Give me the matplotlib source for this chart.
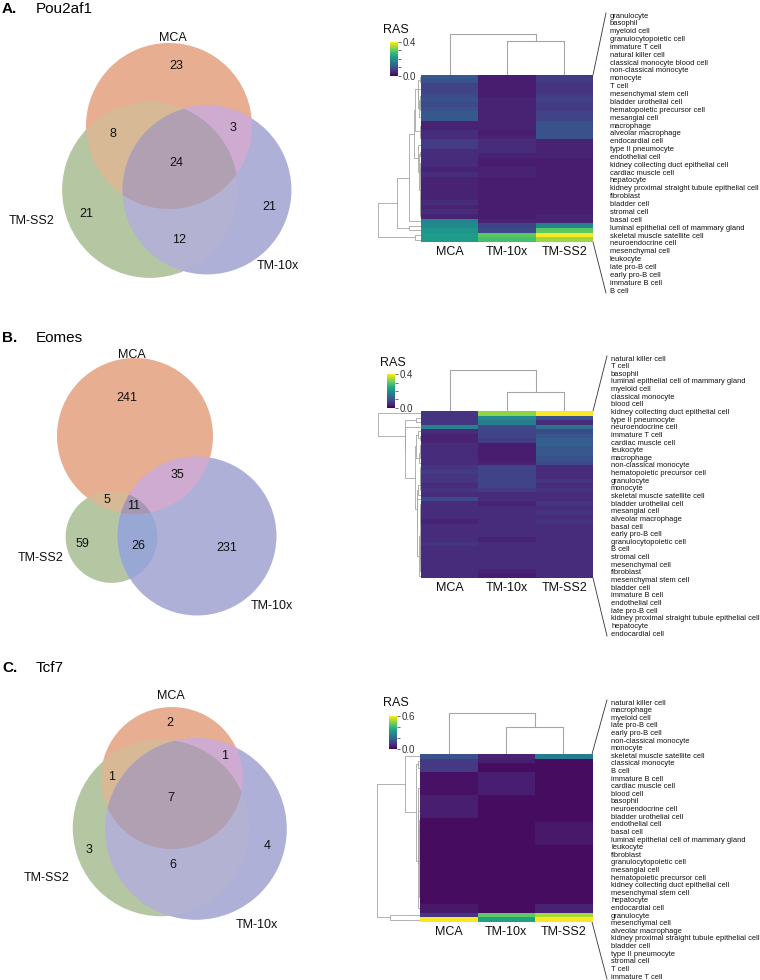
import numpy as np
import matplotlib
matplotlib.use("Agg")
import matplotlib.pyplot as plt
from matplotlib.patches import Circle, Polygon

plt.rcParams['font.family'] = ['Liberation Sans', 'DejaVu Sans']

# ---------------- data ----------------
set_names = ['MCA', 'TM-SS2', 'TM-10x']      # A, B, C of the venn codes
heat_cols = ['MCA', 'TM-10x', 'TM-SS2']

# venn region codes: MCA / TM-SS2 / TM-10x membership
pou2af1_venn = {'100': 23, '010': 21, '110': 8, '001': 21, '101': 3, '011': 12, '111': 24}
eomes_venn = {'100': 241, '010': 59, '110': 5, '001': 231, '101': 35, '011': 26, '111': 11}
tcf7_venn = {'100': 2, '010': 3, '110': 1, '001': 4, '101': 1, '011': 6, '111': 7}

pou2af1_cells = [
    'granulocyte', 'basophil', 'myeloid cell', 'granulocytopoietic cell', 'immature T cell',
    'natural killer cell', 'classical monocyte blood cell', 'non-classical monocyte', 'monocyte',
    'T cell', 'mesenchymal stem cell', 'bladder urothelial cell', 'hematopoietic precursor cell',
    'mesangial cell', 'macrophage', 'alveolar macrophage', 'endocardial cell', 'type II pneumocyte',
    'endothelial cell', 'kidney collecting duct epithelial cell', 'cardiac muscle cell', 'hepatocyte',
    'kidney proximal straight tubule epithelial cell', 'fibroblast', 'bladder cell', 'stromal cell',
    'basal cell', 'luminal epithelial cell of mammary gland', 'skeletal muscle satellite cell',
    'neuroendocrine cell', 'mesenchymal cell', 'leukocyte', 'late pro-B cell', 'early pro-B cell',
    'immature B cell', 'B cell']
pou2af1_mca = [.11, .10, .08, .08, .09, .10, .09, .10, .11, .11, .04, .04, .05, .05, .07, .07, .05, .05,
               .05, .05, .04, .05, .04, .04, .04, .04, .04, .05, .04, .05, .04, .18, .19, .21, .22, .22]
pou2af1_10x = [.03, .03, .03, .03, .03, .04, .04, .04, .04, .04, .04, .04, .03, .04, .05, .05, .05, .04,
               .03, .03, .04, .04, .03, .03, .03, .03, .03, .03, .03, .03, .03, .04, .08, .09, .30, .28]
pou2af1_ss2 = [.07, .07, .06, .06, .07, .08, .07, .07, .08, .08, .10, .10, .10, .10, .04, .04, .04, .04,
               .03, .03, .03, .03, .03, .03, .03, .03, .03, .03, .03, .03, .04, .04, .18, .30, .40, .34]

eomes_cells = [
    'natural killer cell', 'T cell', 'basophil', 'luminal epithelial cell of mammary gland',
    'myeloid cell', 'classical monocyte', 'blood cell', 'kidney collecting duct epithelial cell',
    'type II pneumocyte', 'neuroendocrine cell', 'immature T cell', 'cardiac muscle cell',
    'leukocyte', 'macrophage', 'non-classical monocyte', 'hematopoietic precursor cell',
    'granulocyte', 'monocyte', 'skeletal muscle satellite cell', 'bladder urothelial cell',
    'mesangial cell', 'alveolar macrophage', 'basal cell', 'early pro-B cell',
    'granulocytopoietic cell', 'B cell', 'stromal cell', 'mesenchymal cell', 'fibroblast',
    'mesenchymal stem cell', 'bladder cell', 'immature B cell', 'endothelial cell',
    'late pro-B cell', 'kidney proximal straight tubule epithelial cell', 'hepatocyte',
    'endocardial cell']
eomes_mca = [.06, .06, .06, .18, .05, .04, .04, .05, .05, .05, .05, .05, .06, .07, .06, .06, .05, .06,
             .05, .09, .05, .05, .05, .05, .04, .05, .05, .05, .05, .06, .05, .05, .05, .05, .05, .05, .05]
eomes_10x = [.33, .19, .17, .09, .08, .08, .07, .03, .03, .03, .03, .04, .08, .08, .08, .08, .08, .07,
             .05, .05, .04, .05, .05, .05, .05, .05, .05, .05, .04, .05, .05, .05, .05, .05, .05, .04, .03]
eomes_ss2 = [.40, .10, .05, .15, .09, .11, .12, .12, .11, .11, .10, .09, .05, .05, .05, .06, .05, .06,
             .05, .05, .06, .05, .06, .05, .06, .05, .05, .05, .05, .05, .05, .05, .05, .05, .05, .05, .05]

tcf7_cells = [
    'natural killer cell', 'macrophage', 'myeloid cell', 'late pro-B cell', 'early pro-B cell',
    'non-classical monocyte', 'monocyte', 'skeletal muscle satellite cell', 'classical monocyte',
    'B cell', 'immature B cell', 'cardiac muscle cell', 'blood cell', 'basophil',
    'neuroendocrine cell', 'bladder urothelial cell', 'endothelial cell', 'basal cell',
    'luminal epithelial cell of mammary gland', 'leukocyte', 'fibroblast',
    'granulocytopoietic cell', 'mesangial cell', 'hematopoietic precursor cell',
    'kidney collecting duct epithelial cell', 'mesenchymal stem cell', 'hepatocyte',
    'endocardial cell', 'granulocyte', 'mesenchymal cell', 'alveolar macrophage',
    'kidney proximal straight tubule epithelial cell', 'bladder cell', 'type II pneumocyte',
    'stromal cell', 'T cell', 'immature T cell']
tcf7_mca = [.15, .10, .10, .10, .03, .03, .03, .03, .03, .05, .05, .05, .05, .05, .02, .02, .02, .02,
            .02, .02, .02, .02, .02, .02, .02, .02, .02, .02, .02, .02, .02, .02, .02, .04, .04, .09, .60]
tcf7_10x = [.06, .05, .02, .02, .05, .05, .05, .05, .05, .02, .02, .02, .02, .02, .02, .02, .02, .02,
            .02, .02, .02, .02, .02, .02, .02, .02, .02, .02, .02, .02, .02, .02, .02, .02, .02, .45, .34]
tcf7_ss2 = [.25, .02, .02, .02, .02, .02, .02, .02, .02, .02, .02, .02, .02, .02, .02, .04, .04, .04,
            .04, .04, .02, .02, .02, .02, .02, .02, .02, .02, .02, .02, .02, .02, .02, .06, .06, .52, .60]

# column dendrogram merge heights (10x-SS2 link, root)
pou2af1_col_links = [0.83, 1.0]
eomes_col_links = [0.46, 1.0]
tcf7_col_links = [0.66, 1.0]

# ---------------- styling ----------------
venn_fill = {'100': '#E8AE92', '010': '#B4C6A2', '001': '#AEB0D8', '110': '#D7B995',
             '101': '#CFABD2', '011': '#B4B2D2', '111': '#B0A0B2'}
eomes_fill = dict(venn_fill, **{'011': '#98A7D4', '111': '#A797B2'})
dendro_color = '#a5a5a5'

W, H = 760, 980
fig = plt.figure(figsize=(W / 100, H / 100), dpi=100)
canvas = fig.add_axes([0, 0, 1, 1])
canvas.set_xlim(0, W)
canvas.set_ylim(H, 0)
canvas.axis('off')


def px_axes(x0, y0, x1, y1):
    return fig.add_axes([x0 / W, 1 - y1 / H, (x1 - x0) / W, (y1 - y0) / H])


def set_total(counts, i):
    return sum(v for k, v in counts.items() if k[i] == '1')


def lens(c1, r1, c2, r2):
    # polygon of the overlap of two circles
    t = np.linspace(0, 2 * np.pi, 1440)
    p1 = np.column_stack([c1[0] + r1 * np.cos(t), c1[1] + r1 * np.sin(t)])
    p2 = np.column_stack([c2[0] + r2 * np.cos(t), c2[1] + r2 * np.sin(t)])
    pts = np.vstack([p1[np.hypot(*(p1 - c2).T) <= r2], p2[np.hypot(*(p2 - c1).T) <= r1]])
    m = pts.mean(0)
    return pts[np.argsort(np.arctan2(pts[:, 1] - m[1], pts[:, 0] - m[0]))]


def draw_venn(counts, centers, scale, num_pos, name_pos, fills):
    radii = [scale * np.sqrt(set_total(counts, i)) for i in range(3)]
    clips = [Circle(c, r, transform=canvas.transData) for c, r in zip(centers, radii)]

    def disc(i, code, clip=None):
        p = Circle(centers[i], radii[i], fc=fills[code], ec='none', lw=0, zorder=1)
        canvas.add_patch(p)
        if clip is not None:
            p.set_clip_path(clips[clip])

    disc(0, '100')
    disc(1, '010')
    disc(2, '001')
    disc(1, '110', clip=0)
    disc(2, '101', clip=0)
    disc(2, '011', clip=1)
    tri = Polygon(lens(centers[0], radii[0], centers[1], radii[1]), closed=True,
                  fc=fills['111'], ec='none', lw=0, zorder=1)
    canvas.add_patch(tri)
    tri.set_clip_path(clips[2])

    for code, (tx, ty) in num_pos.items():
        canvas.text(tx, ty, str(counts[code]), ha='center', va='center', fontsize=9,
                    color='#111111', zorder=3)
    for name, (tx, ty) in zip(set_names, name_pos):
        canvas.text(tx, ty, name, ha='center', va='center', fontsize=9, color='#111111', zorder=3)


def adjacent_linkage(X):
    # average linkage that only merges neighbouring clusters, so leaf order is kept
    clusters = [dict(members=[i], pos=float(i), h=0.0) for i in range(len(X))]
    links = []
    while len(clusters) > 1:
        best = None
        for k in range(len(clusters) - 1):
            a = X[clusters[k]['members']]
            b = X[clusters[k + 1]['members']]
            d = np.sqrt(((a[:, None, :] - b[None, :, :]) ** 2).sum(-1)).mean()
            if best is None or d < best[0]:
                best = (d, k)
        d, k = best
        a, b = clusters[k], clusters[k + 1]
        h = max(d, a['h'], b['h'])
        links.append((a['pos'], a['h'], b['pos'], b['h'], h))
        clusters[k:k + 2] = [dict(members=a['members'] + b['members'], pos=(a['pos'] + b['pos']) / 2, h=h)]
    return links


def draw_heatmap(cells, columns, vmax, ticks, heat_box, cbar_box, ras_xy, col_links,
                 label_x, label_y0, label_y1):
    data = np.column_stack(columns)
    n = len(cells)
    hx0, hy0, hx1, hy1 = heat_box

    ax = px_axes(*heat_box)
    im = ax.imshow(data, cmap='viridis', vmin=0, vmax=vmax, aspect='auto', interpolation='nearest')
    ax.set_xticks(range(3))
    ax.set_xticklabels(heat_cols, fontsize=9, color='#111111')
    ax.set_yticks([])
    ax.tick_params(length=0, pad=3)
    for s in ax.spines.values():
        s.set_visible(False)

    cax = px_axes(*cbar_box)
    cb = fig.colorbar(im, cax=cax, ticks=ticks)
    cb.ax.set_yticklabels(['0.0'] + [''] * (len(ticks) - 2) + ['%.1f' % ticks[-1]])
    cb.outline.set_visible(False)
    cb.ax.tick_params(length=2, width=0.5, labelsize=7, pad=1, colors='#333333')
    canvas.text(ras_xy[0], ras_xy[1], 'RAS', fontsize=9, va='center', ha='left', color='#111111')

    # row dendrogram
    links = adjacent_linkage(data)
    rax = px_axes(hx0 - 45, hy0, hx0, hy1)
    for y1, h1, y2, h2, h in links:
        rax.plot([h1, h, h, h2], [y1, y1, y2, y2], color=dendro_color, lw=0.6)
    hmax = max(l[4] for l in links)
    rax.set_xlim(hmax * 1.05, 0)
    rax.set_ylim(n - 0.5, -0.5)
    rax.axis('off')

    # column dendrogram
    dax = px_axes(hx0, hy0 - 43, hx1, hy0)
    h12, h0 = col_links
    dax.plot([1, 1, 2, 2], [0, h12, h12, 0], color=dendro_color, lw=0.8)
    dax.plot([0, 0, 1.5, 1.5], [0, h0, h0, h12], color=dendro_color, lw=0.8)
    dax.set_xlim(-0.5, 2.5)
    dax.set_ylim(0, h0 * 1.04)
    dax.axis('off')

    # cell type labels fanned out from the heatmap
    ys = np.linspace(label_y0, label_y1, n)
    for y, name in zip(ys, cells):
        canvas.text(label_x, y, name, fontsize=5.4, va='center', ha='left', color='#111111')
    canvas.plot([hx1, label_x - 4], [hy0, label_y0 - 3], color='#333333', lw=0.6)
    canvas.plot([hx1, label_x - 4], [hy1, label_y1 + 2], color='#333333', lw=0.6)


def panel_title(y, letter, gene):
    canvas.text(2, y, letter, fontsize=11, fontweight='bold', va='center', ha='left')
    canvas.text(36, y, gene, fontsize=11, va='center', ha='left')


# ---------------- panel A ----------------
panel_title(9, 'A.', 'Pou2af1')
draw_venn(pou2af1_venn, [(169, 126), (150, 190), (207, 190)], 10.9,
          {'100': (176, 66), '110': (113, 134), '101': (233, 128), '111': (176, 163),
           '010': (86, 214), '011': (179, 240), '001': (269, 207)},
          [(173, 38), (32, 221), (278, 266)], venn_fill)
draw_heatmap(pou2af1_cells, [pou2af1_mca, pou2af1_10x, pou2af1_ss2], 0.4, [0, .1, .2, .3, .4],
             (421, 75, 593, 242), (390, 42, 398, 76), (383, 30), pou2af1_col_links,
             610, 16, 291)

# ---------------- panel B ----------------
panel_title(338, 'B.', 'Eomes')
draw_venn(eomes_venn, [(135, 436), (111.5, 537), (197, 536)], 4.565,
          {'100': (127, 398), '101': (177, 475), '110': (107, 500), '111': (134, 506),
           '010': (82, 544), '011': (138, 546), '001': (227, 548)},
          [(132, 355), (41, 558), (272, 606)], eomes_fill)
draw_heatmap(eomes_cells, [eomes_mca, eomes_10x, eomes_ss2], 0.4, [0, .1, .2, .3, .4],
             (421, 411, 593, 578), (387, 374, 395, 408), (380, 363), eomes_col_links,
             611, 359, 634)

# ---------------- panel C ----------------
panel_title(668, 'C.', 'Tcf7')
draw_venn(tcf7_venn, [(172, 778), (161, 828), (196, 829)], 21.4,
          {'100': (170, 723), '110': (112, 777), '101': (225, 756), '111': (171, 798),
           '010': (89, 850), '011': (173, 865), '001': (267, 846)},
          [(171, 696), (47, 878), (257, 925)], venn_fill)
draw_heatmap(tcf7_cells, [tcf7_mca, tcf7_10x, tcf7_ss2], 0.6, [0, .2, .4, .6],
             (420, 754, 592, 922), (389, 716, 397, 749), (383, 703), tcf7_col_links,
             611, 703, 977)

fig.savefig('out.png', dpi=100)
